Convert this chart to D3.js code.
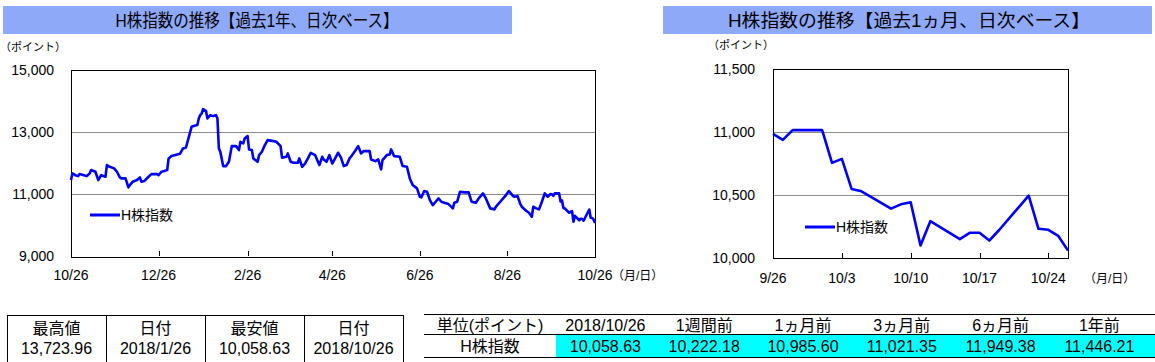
<html>
<head>
<meta charset="utf-8">
<title>H株指数の推移</title>
<script src="https://d3js.org/d3.v7.min.js"></script>
<style>
  body { margin: 0; background: #fff; }
</style>
</head>
<body>
<script>

// ---- data ----
// past 1 year (up to 9/25, the rest comes from the 1 month series)
var yearDates = ["2017-10-26","2017-10-27","2017-10-29","2017-10-31","2017-11-01","2017-11-04","2017-11-06","2017-11-08","2017-11-09","2017-11-12",
  "2017-11-14","2017-11-16","2017-11-19","2017-11-20","2017-11-22","2017-11-25","2017-11-27","2017-11-29","2017-11-30","2017-12-03",
  "2017-12-05","2017-12-06","2017-12-08","2017-12-11","2017-12-13","2017-12-14","2017-12-16","2017-12-19","2017-12-21","2017-12-25",
  "2017-12-26","2017-12-28","2017-12-30","2018-01-01","2018-01-02","2018-01-04","2018-01-08","2018-01-10","2018-01-12","2018-01-14",
  "2018-01-16","2018-01-18","2018-01-20","2018-01-22","2018-01-23","2018-01-24","2018-01-25","2018-01-26","2018-01-28","2018-01-29",
  "2018-01-31","2018-02-02","2018-02-04","2018-02-05","2018-02-06","2018-02-07","2018-02-09","2018-02-11","2018-02-13","2018-02-15",
  "2018-02-18","2018-02-20","2018-02-21","2018-02-23","2018-02-24","2018-02-26","2018-02-27","2018-03-01","2018-03-02","2018-03-05",
  "2018-03-06","2018-03-08","2018-03-10","2018-03-12","2018-03-16","2018-03-18","2018-03-21","2018-03-22","2018-03-25","2018-03-26",
  "2018-03-28","2018-03-30","2018-04-02","2018-04-03","2018-04-05","2018-04-07","2018-04-09","2018-04-11","2018-04-14","2018-04-17",
  "2018-04-19","2018-04-20","2018-04-22","2018-04-24","2018-04-26","2018-04-28","2018-04-30","2018-05-02","2018-05-04","2018-05-06",
  "2018-05-08","2018-05-09","2018-05-12","2018-05-14","2018-05-15","2018-05-16","2018-05-18","2018-05-22","2018-05-23","2018-05-26",
  "2018-05-28","2018-05-30","2018-05-31","2018-06-03","2018-06-05","2018-06-06","2018-06-08","2018-06-12","2018-06-14","2018-06-17",
  "2018-06-19","2018-06-21","2018-06-24","2018-06-26","2018-06-27","2018-06-29","2018-07-01","2018-07-03","2018-07-05","2018-07-07",
  "2018-07-09","2018-07-11","2018-07-13","2018-07-16","2018-07-19","2018-07-20","2018-07-22","2018-07-24","2018-07-27","2018-07-30",
  "2018-08-01","2018-08-04","2018-08-06","2018-08-09","2018-08-11","2018-08-14","2018-08-17","2018-08-18","2018-08-21","2018-08-23",
  "2018-08-25","2018-08-27","2018-08-30","2018-08-31","2018-09-02","2018-09-04","2018-09-05","2018-09-08","2018-09-10","2018-09-12",
  "2018-09-13","2018-09-15","2018-09-17","2018-09-19","2018-09-21","2018-09-23","2018-09-25"];
var yearValues = [11446,11657,11600,11570,11635,11600,11570,11657,11764,11710,
  11443,11600,11550,11925,11870,11818,11710,11530,11496,11496,
  11207,11282,11390,11443,11530,11390,11410,11550,11635,11635,
  11600,11710,11732,11764,12139,12214,12268,12290,12460,12482,
  12814,13157,13190,13212,13425,13532,13585,13724,13671,13425,
  13532,13500,13532,13425,12460,12354,11893,11893,12032,12535,
  12535,12407,12675,12622,12782,12857,12428,12407,12139,12032,
  12246,12354,12568,12728,12696,12675,12535,12160,12193,12300,
  12032,12000,12000,12139,11870,11975,12139,12321,12246,11925,
  12193,12107,12032,12246,11975,12139,12321,12171,11893,11925,
  12139,12193,12385,12535,12428,12300,12375,12375,12107,12053,
  12107,11786,12086,12246,12268,12428,12214,12193,11893,11870,
  11496,11282,11175,10907,10886,11089,11068,10800,10639,10746,
  10853,10746,10714,10671,10532,10714,10746,11068,11046,11046,
  10746,10714,10853,11014,10853,10532,10500,10586,10746,10853,
  10960,11089,10929,10907,10929,10671,10586,10457,10393,10264,
  10586,10532,10500,10746,11014,10907,10993];

// past 1 month
var monthDates = ["2018-09-26","2018-09-27","2018-09-28","2018-10-01","2018-10-02","2018-10-03","2018-10-04","2018-10-05",
  "2018-10-08","2018-10-09","2018-10-10","2018-10-11","2018-10-12","2018-10-15","2018-10-16","2018-10-17","2018-10-18",
  "2018-10-19","2018-10-22","2018-10-23","2018-10-24","2018-10-25","2018-10-26"];
var monthValues = [10985.60,10937,11015,11015,10755,10787,10547,10529,
  10392,10426,10442,10100,10292,10150,10200,10200,10139,
  10222.18,10495,10232,10224,10176,10058.63];

var yearTicks = ["2017-10-26","2017-12-26","2018-02-26","2018-04-26","2018-06-26","2018-08-26","2018-10-26"];
var yearYTicks = [9000, 11000, 13000, 15000];
var monthTicks = ["2018-09-26","2018-10-03","2018-10-10","2018-10-17","2018-10-24"];
var monthYTicks = [10000, 10500, 11000, 11500];

var summaryHeads = ["最高値", "日付", "最安値", "日付"];
var summaryValues = ["13,723.96", "2018/1/26", "10,058.63", "2018/10/26"];
var compareHeads = ["単位(ポイント)", "2018/10/26", "1週間前", "1ヵ月前", "3ヵ月前", "6ヵ月前", "1年前"];
var compareValues = [10058.63, 10222.18, 10985.60, 11021.35, 11949.38, 11446.21];
var seriesName = "H株指数";

// ---- drawing ----
var FONT = "'Liberation Sans', 'Noto Sans CJK JP', sans-serif";
var parse = d3.timeParse("%Y-%m-%d");
var fmtMD = d3.timeFormat("%-m/%-d");
var fmtN = d3.format(",");
var fmt2 = d3.format(",.2f");

var svg = d3.select("body").append("svg")
  .attr("width", 1155).attr("height", 362)
  .style("font-family", FONT);

function title(x, w, cx, txt, len) {
  svg.append("rect").attr("x", x).attr("y", 6).attr("width", w).attr("height", 28).attr("fill", "#8EA9F8");
  svg.append("text").attr("x", cx).attr("y", 27).attr("text-anchor", "middle")
    .attr("font-size", 18).attr("textLength", len).attr("lengthAdjust", "spacingAndGlyphs")
    .text(txt);
}

function lineChart(opt) {
  var x = d3.scaleTime().domain(opt.xDomain.map(parse)).range([opt.left, opt.right]);
  var y = d3.scaleLinear().domain(opt.yDomain).range([opt.bottom, opt.top]);
  var g = svg.append("g");

  // grid
  g.selectAll(".grid").data(opt.yTicks.slice(1, -1)).enter().append("line")
    .attr("x1", opt.left).attr("x2", opt.right)
    .attr("y1", function(d){ return Math.round(y(d)) + 0.5; })
    .attr("y2", function(d){ return Math.round(y(d)) + 0.5; })
    .attr("stroke", "#8c8c8c").attr("stroke-width", 1);

  // x ticks (inside, up from the bottom)
  g.selectAll(".xt").data(opt.xTicks.map(parse)).enter().append("line")
    .attr("x1", function(d){ return Math.round(x(d)) + 0.5; })
    .attr("x2", function(d){ return Math.round(x(d)) + 0.5; })
    .attr("y1", opt.bottom).attr("y2", opt.bottom - 5)
    .attr("stroke", "#000");

  g.selectAll(".xl").data(opt.xTicks.map(parse)).enter().append("text")
    .attr("x", function(d){ return x(d); })
    .attr("y", opt.xLabelY)
    .attr("text-anchor", "middle").attr("font-size", 14)
    .text(function(d){ return fmtMD(d); });

  g.selectAll(".yl").data(opt.yTicks).enter().append("text")
    .attr("x", opt.yLabelX)
    .attr("y", function(d){ return y(d) + 5; })
    .attr("text-anchor", "end").attr("font-size", 14)
    .text(function(d){ return fmtN(d); });

  // frame
  g.append("rect")
    .attr("x", Math.round(opt.left) + 0.5).attr("y", Math.round(opt.top) + 0.5)
    .attr("width", Math.round(opt.right - opt.left)).attr("height", Math.round(opt.bottom - opt.top))
    .attr("fill", "none").attr("stroke", "#000");

  var pts = opt.dates.map(function(d, i){ return [parse(d), opt.values[i]]; });
  var line = d3.line().x(function(d){ return x(d[0]); }).y(function(d){ return y(d[1]); });
  g.append("path").datum(pts).attr("d", line)
    .attr("fill", "none").attr("stroke", "#0000FF").attr("stroke-width", 2.6)
    .attr("stroke-linejoin", "round");

  // legend
  g.append("line").attr("x1", opt.legX).attr("x2", opt.legX + 30)
    .attr("y1", opt.legY).attr("y2", opt.legY)
    .attr("stroke", "#0000FF").attr("stroke-width", 3);
  g.append("text").attr("x", opt.legX + 31).attr("y", opt.legY + 5)
    .attr("font-size", 14).text(seriesName);

  svg.append("text").attr("x", opt.unitX).attr("y", opt.unitY)
    .attr("font-size", 11).text("（ポイント）");
  svg.append("text").attr("x", opt.mdX).attr("y", opt.xLabelY)
    .attr("font-size", 12).text("（月/日）");
}

title(3, 509, 257, "H株指数の推移【過去1年、日次ベース】", 283);
title(663, 489, 909, "H株指数の推移【過去1ヵ月、日次ベース】", 362);

lineChart({
  xDomain: ["2017-10-26", "2018-10-26"], yDomain: [9000, 15000],
  left: 71, right: 595, top: 69.5, bottom: 256,
  xTicks: yearTicks, yTicks: yearYTicks,
  dates: yearDates.concat(monthDates), values: yearValues.concat(monthValues),
  xLabelY: 280, yLabelX: 54, legX: 90, legY: 215,
  unitX: 0, unitY: 51, mdX: 612
});

lineChart({
  xDomain: ["2018-09-26", "2018-10-26"], yDomain: [10000, 11500],
  left: 773, right: 1068, top: 69, bottom: 258,
  xTicks: monthTicks, yTicks: monthYTicks,
  dates: monthDates, values: monthValues,
  xLabelY: 283, yLabelX: 755, legX: 805, legY: 227,
  unitX: 708, unitY: 49, mdX: 1084
});

// ---- summary table (left) ----
var colW = 99, t0x = 7;
var st = svg.append("g").attr("font-size", 16);
st.append("line").attr("x1", t0x).attr("x2", t0x + colW * 4).attr("y1", 315.5).attr("y2", 315.5).attr("stroke", "#000");
st.selectAll(".v").data(d3.range(5)).enter().append("line")
  .attr("x1", function(d){ return t0x + colW * d + 0.5; })
  .attr("x2", function(d){ return t0x + colW * d + 0.5; })
  .attr("y1", 315).attr("y2", 362).attr("stroke", "#000");
st.selectAll(".h").data(summaryHeads).enter().append("text")
  .attr("x", function(d, i){ return t0x + colW * i + colW / 2; }).attr("y", 334)
  .attr("text-anchor", "middle").text(function(d){ return d; });
st.selectAll(".s").data(summaryValues).enter().append("text")
  .attr("x", function(d, i){ return t0x + colW * i + colW / 2; }).attr("y", 354)
  .attr("text-anchor", "middle").text(function(d){ return d; });

// ---- comparison table (right) ----
var ct = svg.append("g").attr("font-size", 16);
var c0 = 556, cw = 98.8;
ct.append("rect").attr("x", c0).attr("y", 335).attr("width", 1155 - c0).attr("height", 22).attr("fill", "#00FFFF");
[314.5, 334.5, 357.5].forEach(function(yy){
  ct.append("line").attr("x1", 424).attr("x2", 1155).attr("y1", yy).attr("y2", yy).attr("stroke", "#000");
});
ct.append("text").attr("x", 490).attr("y", 331).attr("text-anchor", "middle").text(compareHeads[0]);
ct.append("text").attr("x", 490).attr("y", 352).attr("text-anchor", "middle").text(seriesName);
ct.selectAll(".ch").data(compareHeads.slice(1)).enter().append("text")
  .attr("x", function(d, i){ return c0 + cw * i + cw / 2; }).attr("y", 331)
  .attr("text-anchor", "middle").text(function(d){ return d; });
ct.selectAll(".cv").data(compareValues).enter().append("text")
  .attr("x", function(d, i){ return c0 + cw * i + cw / 2; }).attr("y", 352)
  .attr("text-anchor", "middle").text(function(d){ return fmt2(d); });

</script>
</body>
</html>
